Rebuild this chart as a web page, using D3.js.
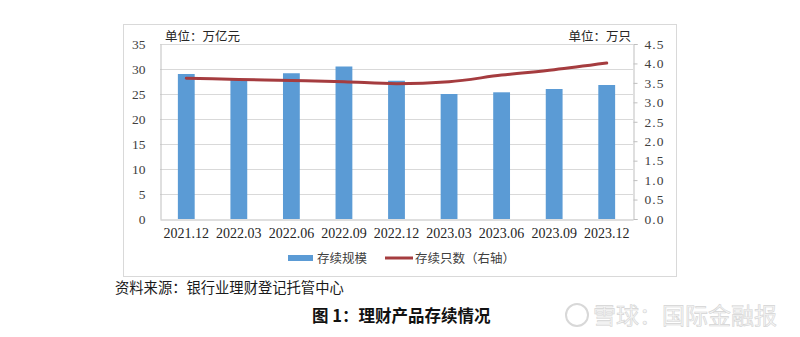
<!DOCTYPE html>
<html><head><meta charset="utf-8">
<script src="https://cdn.jsdelivr.net/npm/d3@7/dist/d3.min.js"></script>
<style>
html,body{margin:0;padding:0;background:#fff;}
svg{display:block;}
</style></head>
<body><svg id="c" width="800" height="337"></svg>
<script>
const categories = ["2021.12","2022.03","2022.06","2022.09","2022.12","2023.03","2023.06","2023.09","2023.12"];
const scaleValues = [29.0, 28.0, 29.15, 30.5, 27.65, 25.0, 25.34, 26.0, 26.8];   // 存续规模 (万亿元)
const countValues = [3.62, 3.59, 3.56, 3.53, 3.48, 3.53, 3.70, 3.84, 4.01];     // 存续只数 (万只)
const leftTicks = [0,5,10,15,20,25,30,35];
const rightTicks = [0,0.5,1.0,1.5,2.0,2.5,3.0,3.5,4.0,4.5];

const svg = d3.select("#c");
const serif = "'Liberation Serif','Times New Roman',serif";
const cjk = "'Noto Sans CJK SC','Noto Sans',sans-serif";

// outer frame
svg.append("rect").attr("x",123.5).attr("y",24.5).attr("width",553).attr("height",252)
  .attr("fill","#fff").attr("stroke","#d9d9d9").attr("stroke-width",1);

const L=160, R=633, T=44, B=219;
const x = d3.scaleBand().domain(categories).range([L,R]).paddingInner(0.68).paddingOuter(0.34);
const yL = d3.scaleLinear().domain([0,35]).range([B,T]);
const yR = d3.scaleLinear().domain([0,4.5]).range([B,T]);

// gridlines
svg.append("g").selectAll("line").data(leftTicks.filter(d=>d>0)).join("line")
  .attr("x1",L).attr("x2",R).attr("y1",d=>Math.round(yL(d))+0.5).attr("y2",d=>Math.round(yL(d))+0.5)
  .attr("stroke","#d9d9d9").attr("stroke-width",1);

// left axis
const gl = svg.append("g").attr("transform",`translate(${L+0.5},0)`)
  .call(d3.axisLeft(yL).tickValues(leftTicks).tickSize(0).tickPadding(15).tickFormat(d3.format("d")));
gl.select(".domain").attr("stroke","#bfbfbf");
gl.selectAll("text").attr("font-family",serif).attr("font-size",13.5).attr("fill","#404040");

// right axis
const gr = svg.append("g").attr("transform",`translate(${R+0.5},0)`)
  .call(d3.axisRight(yR).tickValues(rightTicks).tickSize(4).tickPadding(7).tickFormat(d3.format(".1f")));
gr.select(".domain").attr("stroke","#bfbfbf");
gr.selectAll(".tick line").attr("stroke","#bfbfbf");
gr.selectAll("text").attr("font-family",serif).attr("font-size",13.5).attr("letter-spacing","1px").attr("fill","#404040");

// bars
svg.append("g").selectAll("rect").data(categories).join("rect")
  .attr("x",(d)=>x(d)).attr("width",x.bandwidth())
  .attr("y",(d,i)=>yL(scaleValues[i])).attr("height",(d,i)=>B-yL(scaleValues[i]))
  .attr("fill","#5b9bd5");

// bottom axis
const gb = svg.append("g").attr("transform",`translate(0,${B+0.5})`)
  .call(d3.axisBottom(x).tickSize(0).tickPadding(9));
gb.select(".domain").attr("stroke","#bfbfbf");
gb.selectAll("text").attr("font-family",serif).attr("font-size",14).attr("fill","#262626");

// line
const line = d3.line().x((d,i)=>x(categories[i])+x.bandwidth()/2).y(d=>yR(d)).curve(d3.curveMonotoneX);
svg.append("path").datum(countValues).attr("d",line).attr("fill","none")
  .attr("stroke","#a53c3f").attr("stroke-width",3).attr("stroke-linecap","round");

// unit labels
svg.append("text").attr("x",165).attr("y",40.5).attr("font-family",cjk).attr("font-size",12.5).attr("fill","#262626").text("单位：万亿元");
svg.append("text").attr("x",631).attr("y",40.5).attr("text-anchor","end").attr("font-family",cjk).attr("font-size",12.5).attr("fill","#262626").text("单位：万只");

// legend
svg.append("rect").attr("x",288).attr("y",255).attr("width",25).attr("height",6).attr("fill","#5b9bd5");
svg.append("text").attr("x",317).attr("y",262.5).attr("font-family",cjk).attr("font-size",12.5).attr("fill","#404040").text("存续规模");
svg.append("line").attr("x1",385).attr("x2",413).attr("y1",258).attr("y2",258).attr("stroke","#a53c3f").attr("stroke-width",3);
svg.append("text").attr("x",415).attr("y",262.5).attr("font-family",cjk).attr("font-size",12.5).attr("fill","#404040").text("存续只数（右轴）");

// source
svg.append("text").attr("x",115).attr("y",293).attr("font-family",cjk).attr("font-size",14.3).attr("fill","#1a1a1a").text("资料来源：银行业理财登记托管中心");

// title
svg.append("text").attr("x",312).attr("y",322).attr("font-family",cjk).attr("font-size",16.5).attr("font-weight","bold").attr("fill","#111").text("图 1：理财产品存续情况");

// watermark
const wm = svg.append("g");
wm.append("circle").attr("cx",577).attr("cy",315).attr("r",11).attr("fill","none").attr("stroke","#d8d8d8").attr("stroke-width",2);
wm.append("text").attr("x",593).attr("y",323.5).attr("font-family",cjk).attr("font-size",23).attr("fill","#f6f6f6")
  .attr("stroke","#d4d4d4").attr("stroke-width",0.6).text("雪球：国际金融报");
</script></body></html>
